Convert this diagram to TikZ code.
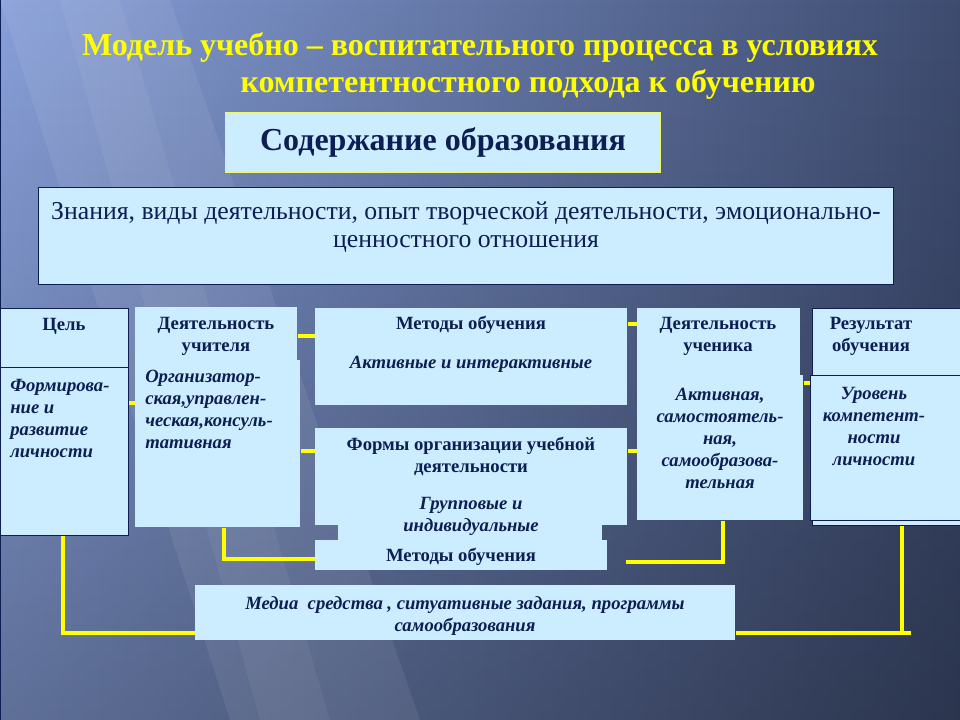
\documentclass[tikz,border=0pt]{standalone}
\usepackage{fontspec}
\setmainfont{Liberation Serif}
\usetikzlibrary{fadings}
\definecolor{navy}{RGB}{12,30,82}
\definecolor{boxfill}{RGB}{204,236,255}
\definecolor{ttl}{RGB}{255,255,0}
\definecolor{bgL}{RGB}{136,160,218}
\definecolor{bgM}{RGB}{92,112,160}
\definecolor{bgR}{RGB}{62,76,112}
\tikzfading[name=fadeup, top color=transparent!100, bottom color=transparent!0]
\begin{document}
\begin{tikzpicture}[x=0.75pt,y=-0.75pt,
  bx/.style={fill=boxfill, inner sep=0pt, anchor=north west},
  bxb/.style={bx, draw=navy, line width=0.8pt},
  conn/.style={draw=ttl, line width=2.4pt},
  hd/.style={font=\fontsize{14}{16.5}\selectfont\bfseries, text=navy, align=center, inner sep=0pt},
  bd/.style={font=\fontsize{14}{16.5}\selectfont\bfseries\itshape, text=navy, inner sep=0pt},
  ttlstyle/.style={font=\fontsize{24}{28}\selectfont\bfseries, text=ttl, inner sep=0pt},
]
\useasboundingbox (0,0) rectangle (960,720);
% background
\shade[left color=bgL, middle color=bgM, right color=bgR] (0,0) rectangle (960,720);
\fill[black, opacity=0.3, path fading=fadeup] (0,0) rectangle (960,720);
\fill[white, opacity=0.07] (0,0) -- (170,0) -- (420,720) -- (230,720) -- cycle;
\fill[white, opacity=0.05] (60,0) -- (120,0) -- (330,720) -- (260,720) -- cycle;
\draw[navy, line width=1.5pt] (0,0) -- (0,720);

% title
\node[ttlstyle] (title1) at (480,48) {Модель учебно – воспитательного процесса в условиях};
\node[ttlstyle] (title2) at (528,85) {компетентностного подхода к обучению};

% content
\node[bx, draw=ttl!60!boxfill, line width=0.8pt, minimum width=326.25pt, minimum height=45pt] (sod) at (225,112) {};
\node[font=\fontsize{24}{28}\selectfont\bfseries, text=navy, inner sep=0pt] (sodt) at (sod.center) {Содержание образования};

\node[bxb, minimum width=641.25pt, minimum height=72.75pt] (znan) at (38,187) {};
\node[font=\fontsize{19.3}{21}\selectfont, text=navy, align=center, inner sep=0pt] (znant) at (466,227) {Знания, виды деятельности, опыт творческой деятельности, эмоционально-\\ценностного отношения};

% goal
\node[bxb, minimum width=96pt, minimum height=44.25pt] (celtop) at (0,308) {};
\node[hd] (celt) at (64,326) {Цель};
\node[bxb, minimum width=96pt, minimum height=126pt] (celbody) at (0,367) {};
\node[bd, align=left, anchor=north west] (celb) at (10,379) {Формирова-\\ние и\\развитие\\личности};

% teacher
\node[bx, minimum width=121.5pt, minimum height=39.75pt] (uchtop) at (135,307) {};
\node[bx, minimum width=123.75pt, minimum height=125.25pt] (uchbody) at (135,360) {};
\node[hd] (ucht) at (216,336) {Деятельность\\учителя};
\node[bd, align=left, anchor=north west] (uchb) at (145,370) {Организатор-\\ская,управлен-\\ческая,консуль-\\тативная};

% methods
\node[bx, minimum width=234pt, minimum height=72.75pt] (met) at (315,308) {};
\node[hd] (mett) at (471,325) {Методы обучения};
\node[bd] (metb) at (471,364) {Активные и интерактивные};

% forms
\node[bx, minimum width=234pt, minimum height=72.75pt] (form) at (315,428) {};
\node[bx, minimum width=198pt, minimum height=11.25pt] (formext) at (338,525) {};
\node[bx, minimum width=219pt, minimum height=22.5pt] (met2) at (315,540) {};
\node[hd] (formt) at (471,456) {Формы организации учебной\\деятельности};
\node[bd, align=center] (formb) at (471,516) {Групповые и\\индивидуальные};
\node[hd] (met2t) at (461,557) {Методы обучения};

% student
\node[bx, minimum width=122.25pt, minimum height=50.25pt] (stutop) at (637,308) {};
\node[bx, minimum width=124.5pt, minimum height=108.75pt] (stubody) at (637,375) {};
\node[hd] (stut) at (718,336) {Деятельность\\ученика};
\node[bd, align=center] (stub) at (720,438) {Активная,\\самостоятель-\\ная,\\самообразова-\\тельная};

% result
\node[bxb, minimum width=111pt, minimum height=50.25pt] (restop) at (812,308) {};
\node[bxb, minimum width=111pt, minimum height=108.75pt] (resshadow) at (812,380) {};
\node[bxb, minimum width=112.5pt, minimum height=108.75pt] (resbody) at (810,375) {};
\node[hd] (rest) at (871,336) {Результат\\обучения};
\node[bd, align=center] (resb) at (874,426) {Уровень\\компетент-\\ности\\личности};

% media
\node[bx, minimum width=405pt, minimum height=41.25pt] (media) at (195,585) {};
\node[bd, align=center] (medt) at (465,616) {Медиа\ \ средства , ситуативные задания, программы\\самообразования};

% connectors
\coordinate (gapend) at (626,562);
\coordinate (rescorner) at (902,633);
\coordinate (resend) at (911,633);
\draw[conn] (celbody.east |- 0,403) -- (uchbody.west |- 0,403);
\draw[conn] (uchtop.east |- 0,336) -- (met.west |- 0,336);
\draw[conn] (uchbody.east |- 0,451) -- (form.west |- 0,451);
\draw[conn] (met.east |- 0,324) -- (stutop.west |- 0,324);
\draw[conn] (form.east |- 0,451) -- (stubody.west |- 0,451);
\draw[conn] (stubody.east |- 0,383) -- (resbody.west |- 0,383);
\draw[conn] (uchbody.south -| 224,0) |- (met2.west |- 0,559);
\draw[conn] (stubody.south -| 723,0) |- (gapend);
\draw[conn] (celbody.south -| 63,0) |- (media.west |- 0,633);
\draw[conn] (resshadow.south -| rescorner) -- (rescorner);
\draw[conn] (media.east |- rescorner) -- (resend);
\end{tikzpicture}
\end{document}
